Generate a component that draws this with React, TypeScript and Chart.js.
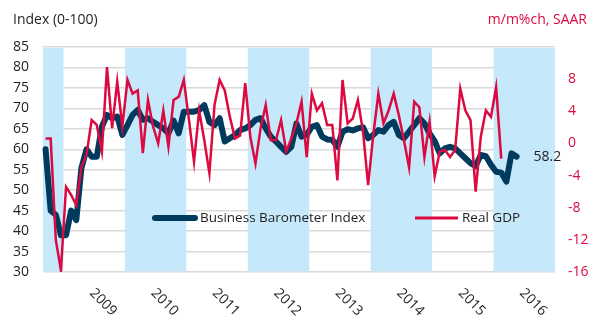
import { useEffect, useRef } from 'react';
import { Chart, registerables } from 'chart.js';

Chart.register(...registerables);

// ---- categories: monthly, Sep 2008 .. Dec 2016 ----
const startYear = 2008;
const startMonth = 9; // September
const endYear = 2016;
const months: string[] = [];
for (let y = startYear; y <= endYear; y++) {
  for (let m = y === startYear ? startMonth : 1; m <= 12; m++) {
    months.push(`${y}-${String(m).padStart(2, '0')}`);
  }
}

const yearLabels = ['2009', '2010', '2011', '2012', '2013', '2014', '2015', '2016'];
const shadedYears = ['2008', '2010', '2012', '2014', '2016'];

// Business Barometer Index (left axis, 0-100)
const barometer = [
  60, 45, 44, 39, 39, 45, 42.7, 55.4, 60, 58.2, 58.2, 65.5,
  68.4, 67.6, 68, 63.5, 65.9, 68.4, 69.6, 67.2, 67.6, 66.7, 65.9, 65.1,
  63.9, 67, 63.9, 69.2, 69.2, 69.2, 69.6, 70.8, 66.7, 65.9, 67.6, 61.9,
  62.7, 63.5, 64.7, 65.1, 65.9, 67.2, 67.6, 65.1, 63.1, 61.9, 60.6, 59.4,
  60.6, 66.3, 63.1, 63.5, 65.5, 65.9, 63.1, 62.4, 62.3, 60.6, 64.3, 64.9,
  64.6, 65.1, 65.4, 62.7, 63.5, 64.7, 64.3, 65.9, 66.7, 63.5, 62.7, 64.3,
  65.9, 67.6, 66.3, 63.9, 62, 59, 60.2, 60.6, 60.2, 59, 57.8, 56.6,
  55.9, 58.6, 58.3, 56.2, 54.5, 54.3, 52.1, 59, 58.2,
];

// Real GDP, m/m %ch SAAR (right axis)
const realGdp = [
  0.6, 0.6, -12, -15.8, -5.4, -6.4, -7.7, -2.9, -1.4, 2.9, 2.3, -1.0,
  9.5, 1.9, 7.7, 2.1, 7.9, 6.2, 6.6, -1.2, 5.4, 2.1, 0, 4.1,
  -0.4, 5.4, 5.8, 7.9, 3.0, -2.3, 4.1, 0.4, -3.7, 4.8, 7.9, 6.6,
  3.3, 0.6, 1.0, 7.5, 0.8, -2.5, 1.9, 4.8, 0.4, 0.4, 2.9, -1.0,
  0.6, 2.5, 5.2, -1.7, 6.2, 4.1, 5.0, 2.3, 2.3, -4.6, 7.9, 2.5,
  3.1, 5.4, 1.5, -5.2, 1.0, 6.2, 2.5, 4.1, 6.2, 3.5, 0.4, -3.0,
  5.2, 4.5, -1.7, 2.7, -4.1, -1.0, -0.8, -1.7, -0.8, 6.8, 4.1, 2.9,
  -6.0, 0.8, 4.1, 3.3, 7.0, -1.9,
];

const leftTitle = 'Index (0-100)';
const rightTitle = 'm/m%ch, SAAR';
const barometerName = 'Business Barometer Index';
const gdpName = 'Real GDP';

const NAVY = '#003a5c';
const RED = '#dc0a40';
const BAND = '#c5e8fa';
const GRID = '#d9d9d9';
const TEXT = '#1e1e1e';
const FONT = "'Open Sans', 'DejaVu Sans', sans-serif";

const decorPlugin = {
  id: 'decor',
  beforeDatasetsDraw(chart: any) {
    const { ctx, chartArea: a } = chart;
    const x = chart.scales.x;
    const step = x.getPixelForValue(1) - x.getPixelForValue(0);
    ctx.save();
    ctx.fillStyle = BAND;
    shadedYears.forEach((yr) => {
      const idx: number[] = [];
      months.forEach((m, i) => { if (m.startsWith(yr)) idx.push(i); });
      if (!idx.length) return;
      const x0 = Math.max(a.left, x.getPixelForValue(idx[0]) - step / 2);
      const x1 = Math.min(a.right, x.getPixelForValue(idx[idx.length - 1]) + step / 2);
      ctx.fillRect(x0, a.top + 1, x1 - x0, a.bottom - a.top - 1.5);
    });
    ctx.restore();
  },
  afterDraw(chart: any) {
    const { ctx, chartArea: a } = chart;
    const x = chart.scales.x;
    ctx.save();
    // axis titles
    ctx.font = `14px ${FONT}`;
    ctx.textBaseline = 'middle';
    ctx.fillStyle = TEXT;
    ctx.textAlign = 'left';
    ctx.fillText(leftTitle, 13, 20);
    ctx.fillStyle = RED;
    ctx.textAlign = 'right';
    ctx.fillText(rightTitle, 587, 20);

    // rotated year labels
    ctx.fillStyle = TEXT;
    ctx.textAlign = 'left';
    ctx.textBaseline = 'top';
    yearLabels.forEach((yr) => {
      const i = months.indexOf(`${yr}-07`);
      const px = x.getPixelForValue(i);
      ctx.save();
      ctx.translate(px, a.bottom + 14);
      ctx.rotate(Math.PI / 4);
      ctx.fillText(yr, 0, 0);
      ctx.restore();
    });

    // legend
    const ly = 218;
    ctx.lineCap = 'round';
    ctx.strokeStyle = NAVY;
    ctx.lineWidth = 6;
    ctx.beginPath();
    ctx.moveTo(a.left + 112, ly);
    ctx.lineTo(a.left + 152, ly);
    ctx.stroke();
    ctx.strokeStyle = RED;
    ctx.lineWidth = 3;
    ctx.lineCap = 'butt';
    ctx.beginPath();
    ctx.moveTo(a.left + 372, ly);
    ctx.lineTo(a.left + 415, ly);
    ctx.stroke();
    ctx.font = `13.5px ${FONT}`;
    ctx.textBaseline = 'middle';
    ctx.fillStyle = TEXT;
    ctx.fillText(barometerName, a.left + 157, ly);
    ctx.fillText(gdpName, a.left + 419, ly);

    // end label for the barometer
    const meta = chart.getDatasetMeta(1);
    const last = meta.data[barometer.length - 1];
    if (last) {
      ctx.font = `14px ${FONT}`;
      ctx.fillStyle = TEXT;
      ctx.fillText(String(barometer[barometer.length - 1]), last.x + 17, last.y);
    }
    ctx.restore();
  },
};

export default function App() {
  const ref = useRef<HTMLCanvasElement | null>(null);
  useEffect(() => {
    document.body.style.margin = '0';
    if (!ref.current) return;
    const chart = new Chart(ref.current, {
      type: 'line',
      data: {
        labels: months,
        datasets: [
          {
            label: gdpName,
            data: realGdp,
            yAxisID: 'y1',
            borderColor: RED,
            borderWidth: 2.5,
            pointRadius: 0,
            tension: 0,
            order: 0,
            borderJoinStyle: 'miter',
          },
          {
            label: barometerName,
            data: barometer,
            yAxisID: 'y',
            borderColor: NAVY,
            borderWidth: 6,
            pointRadius: 0,
            tension: 0,
            order: 1,
            borderJoinStyle: 'round',
            borderCapStyle: 'round',
          },
        ],
      },
      options: {
        animation: false,
        responsive: false,
        layout: { padding: { top: 47, left: 0, right: 0, bottom: 0 } },
        plugins: { legend: { display: false }, tooltip: { enabled: false } },
        scales: {
          x: {
            type: 'category',
            offset: true,
            grid: { display: false },
            border: { display: false },
            ticks: { display: false },
            afterFit: (s: any) => { s.height = 58; },
          },
          y: {
            position: 'left',
            min: 30,
            max: 85,
            ticks: { stepSize: 5, color: TEXT, font: { family: FONT, size: 14 }, padding: 14 },
            grid: { color: GRID, lineWidth: 1.5, drawTicks: false },
            border: { display: false },
            afterFit: (s: any) => { s.width = 43; },
          },
          y1: {
            position: 'right',
            min: -16,
            max: 12,
            ticks: {
              stepSize: 4,
              color: RED,
              font: { family: FONT, size: 14 },
              padding: 13,
              callback: (v: any) => (v === 12 ? '' : String(v)),
            },
            grid: { display: false, drawTicks: false },
            border: { display: false },
            afterFit: (s: any) => { s.width = 50; },
          },
        },
      },
      plugins: [decorPlugin],
    } as any);
    return () => chart.destroy();
  }, []);
  return (
    <div style={{ width: 605, height: 330 }}>
      <canvas ref={ref} width={605} height={330} />
    </div>
  );
}
